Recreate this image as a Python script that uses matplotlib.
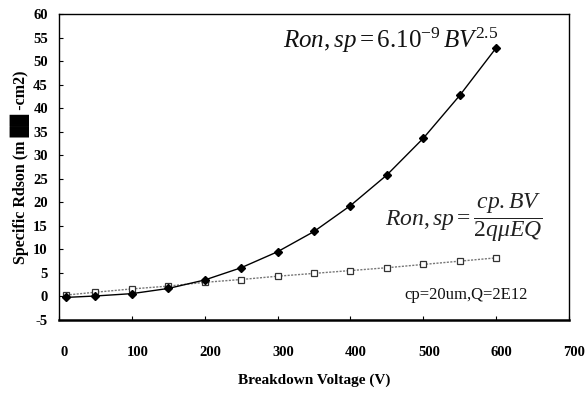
import matplotlib
matplotlib.use("Agg")
import matplotlib.pyplot as plt
from matplotlib.transforms import ScaledTranslation

plt.rcParams['font.family'] = ['Liberation Serif', 'DejaVu Serif']
plt.rcParams['mathtext.fontset'] = 'custom'
plt.rcParams['mathtext.rm'] = 'Liberation Serif'
plt.rcParams['mathtext.it'] = 'Liberation Serif:italic'
plt.rcParams['mathtext.bf'] = 'Liberation Serif:bold'

# Data
bv = [10, 50, 100, 150, 200, 250, 300, 350, 400, 450, 500, 550, 600]
ron_power = [-0.2, 0.1, 0.6, 1.7, 3.5, 6.1, 9.5, 13.8, 19.3, 25.8, 33.6, 42.7, 52.8]
ron_linear = [0.3, 0.9, 1.6, 2.2, 3.0, 3.6, 4.3, 4.9, 5.5, 6.1, 6.8, 7.5, 8.2]

x_ticks = [0, 100, 200, 300, 400, 500, 600, 700]
y_ticks = [-5, 0, 5, 10, 15, 20, 25, 30, 35, 40, 45, 50, 55, 60]

fig = plt.figure(figsize=(5.85, 3.94), dpi=100)
ax = fig.add_axes([59/585, 1-320/394, (569-59)/585, (320-14)/394])

ax.plot(bv, ron_linear, linestyle=(0, (1.5, 1.0)), color='#777777', linewidth=1.0,
        marker='s', markersize=4, markerfacecolor='white', markeredgecolor='#333333',
        markeredgewidth=0.9, zorder=2)
ax.plot(bv, ron_power, linestyle='-', color='black', linewidth=1.0,
        marker='D', markersize=4.5, markerfacecolor='black', markeredgecolor='black',
        zorder=3)

ax.set_xlim(0, 700)
ax.set_ylim(-5, 60)
ax.set_xticks(x_ticks)
ax.set_yticks(y_ticks)
ax.set_yticklabels([str(v) for v in y_ticks])
ax.set_xticklabels([str(v) for v in x_ticks])

ax.tick_params(axis='both', direction='in', length=3, width=0.8, labelsize=10.5)
ax.tick_params(axis='x', pad=19)
ax.tick_params(axis='y', pad=8)
for lab in ax.get_xticklabels():
    lab.set_transform(lab.get_transform() + ScaledTranslation(4/72, 0, fig.dpi_scale_trans))
    lab.set_fontweight('bold')
for lab in ax.get_yticklabels():
    lab.set_fontweight('bold')

for s in ['left', 'right', 'top']:
    ax.spines[s].set_linewidth(1.0)
ax.spines['bottom'].set_linewidth(1.8)

ax.set_xlabel('Breakdown Voltage (V)', fontsize=11, fontweight='bold', labelpad=10)
ax.set_ylabel('Specific Rdson (m \u2588\u2588 -cm2)', fontsize=11.5, fontweight='bold', labelpad=2)

ax.text(603, 54.4, r'$Ron, sp = 6.10^{-9}\,BV^{2.5}$', fontsize=18, ha='right', va='center',
        color='#111111')
ax.text(664, 16.7, r'$Ron, sp = \dfrac{cp.BV}{2q\mu EQ}$', fontsize=17, ha='right', va='center',
        color='#222222')
ax.text(559, 0.4, 'cp=20um,Q=2E12', fontsize=12, ha='center', va='center', color='#111111')

fig.savefig('out.png', dpi=100)
